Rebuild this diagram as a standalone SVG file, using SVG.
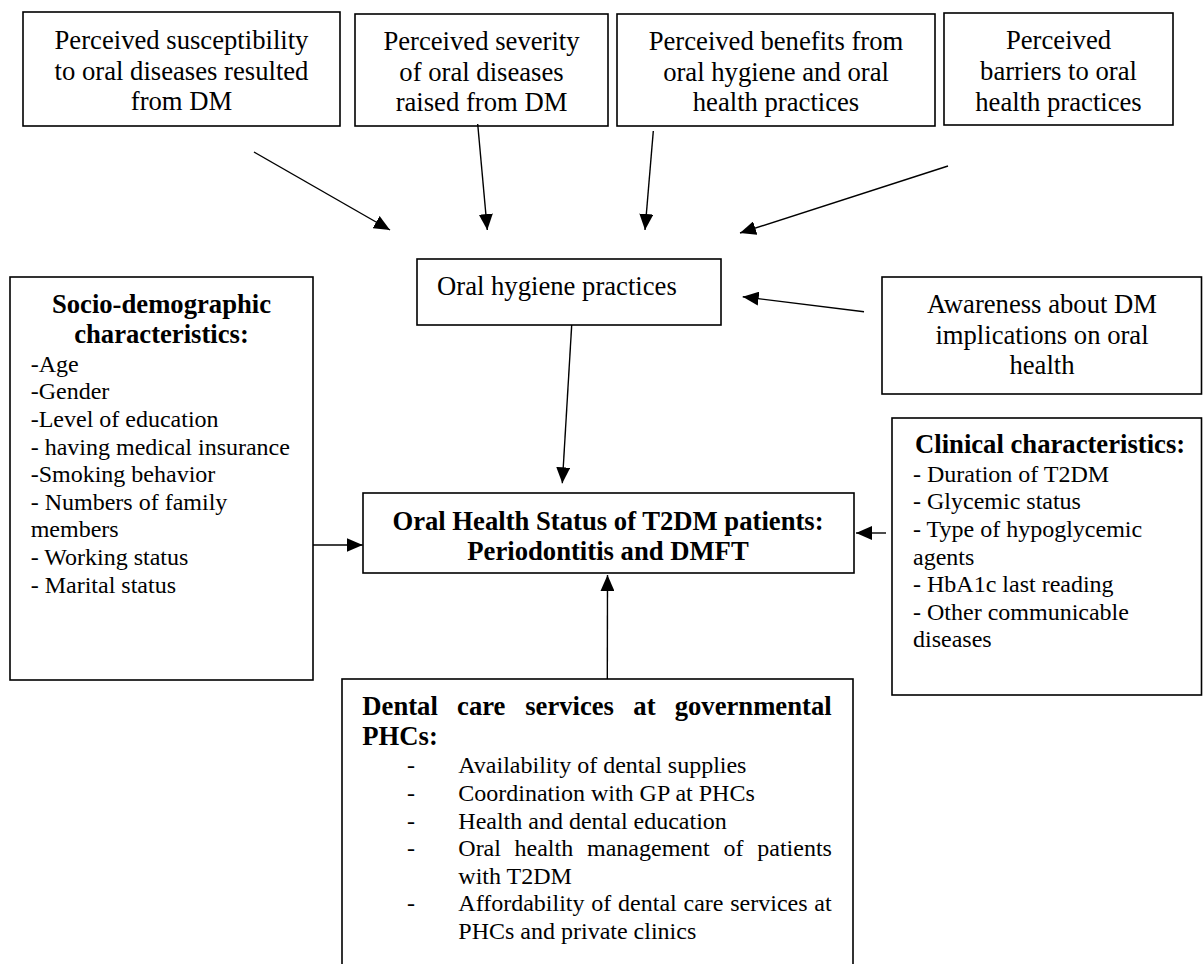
<svg xmlns="http://www.w3.org/2000/svg" width="1203" height="964" viewBox="0 0 1203 964">
<style>
  .box { fill: #ffffff; stroke: #000000; stroke-width: 1.6; }
  .t { font-family: "Liberation Serif", "Times New Roman", serif; font-size: 26.67px; fill: #000000; }
  .s { font-family: "Liberation Serif", "Times New Roman", serif; font-size: 24px; fill: #000000; }
  .b { font-weight: bold; }
  .c { text-anchor: middle; }
  .conn { fill: none; stroke: #000000; stroke-width: 1.4; marker-end: url(#arrow); }
</style>
<defs>
  <marker id="arrow" markerUnits="userSpaceOnUse" markerWidth="16" markerHeight="14" refX="16" refY="7" orient="auto">
    <path d="M0,0 L16,7 L0,14 z" fill="#000000"/>
  </marker>
</defs>
<rect width="1203" height="964" fill="#ffffff"/>

<g id="susceptibility">
  <rect class="box" x="23" y="12" width="317" height="114"/>
  <text class="t c" x="181.5" y="49">Perceived susceptibility</text>
  <text class="t c" x="181.5" y="79.7">to oral diseases resulted</text>
  <text class="t c" x="181.5" y="110.4">from DM</text>
</g>

<g id="severity">
  <rect class="box" x="355" y="14" width="253" height="112"/>
  <text class="t c" x="481.5" y="50">Perceived severity</text>
  <text class="t c" x="481.5" y="80.7">of oral diseases</text>
  <text class="t c" x="481.5" y="111.4">raised from DM</text>
</g>

<g id="benefits">
  <rect class="box" x="617" y="14" width="318" height="112"/>
  <text class="t c" x="776" y="50">Perceived benefits from</text>
  <text class="t c" x="776" y="80.7">oral hygiene and oral</text>
  <text class="t c" x="776" y="111.4">health practices</text>
</g>

<g id="barriers">
  <rect class="box" x="944" y="13" width="229" height="112"/>
  <text class="t c" x="1058.5" y="49.3">Perceived</text>
  <text class="t c" x="1058.5" y="80">barriers to oral</text>
  <text class="t c" x="1058.5" y="110.7">health practices</text>
</g>

<g id="oral-hygiene">
  <rect class="box" x="417" y="259" width="304" height="66"/>
  <text class="t" x="437" y="295">Oral hygiene practices</text>
</g>

<g id="awareness">
  <rect class="box" x="882" y="277" width="319.5" height="117"/>
  <text class="t c" x="1042" y="313">Awareness about DM</text>
  <text class="t c" x="1042" y="343.7">implications on oral</text>
  <text class="t c" x="1042" y="374.4">health</text>
</g>

<g id="socio-demographic">
  <rect class="box" x="10" y="277" width="303" height="403"/>
  <text class="t b c" x="161.5" y="313.3">Socio-demographic</text>
  <text class="t b c" x="161.5" y="343.3">characteristics:</text>
  <text class="s" x="30.7" y="371.7">-Age</text>
  <text class="s" x="30.7" y="399.3">-Gender</text>
  <text class="s" x="30.7" y="426.9">-Level of education</text>
  <text class="s" x="30.7" y="454.5">- having medical insurance</text>
  <text class="s" x="30.7" y="482.1">-Smoking behavior</text>
  <text class="s" x="30.7" y="509.7">- Numbers of family</text>
  <text class="s" x="30.7" y="537.3">members</text>
  <text class="s" x="30.7" y="564.9">- Working status</text>
  <text class="s" x="30.7" y="592.5">- Marital status</text>
</g>

<g id="oral-health-status">
  <rect class="box" x="363" y="493" width="491" height="80"/>
  <text class="t b c" x="608" y="530">Oral Health Status of T2DM patients:</text>
  <text class="t b c" x="608" y="560">Periodontitis and DMFT</text>
</g>

<g id="clinical">
  <rect class="box" x="892" y="418" width="309.5" height="277"/>
  <text class="t b" x="915" y="453">Clinical characteristics:</text>
  <text class="s" x="913" y="481.7">- Duration of T2DM</text>
  <text class="s" x="913" y="509.3">- Glycemic status</text>
  <text class="s" x="913" y="536.9">- Type of hypoglycemic</text>
  <text class="s" x="913" y="564.5">agents</text>
  <text class="s" x="913" y="592.1">- HbA1c last reading</text>
  <text class="s" x="913" y="619.7">- Other communicable</text>
  <text class="s" x="913" y="647.3">diseases</text>
</g>

<g id="dental-care">
  <rect class="box" x="342" y="679" width="511" height="300"/>
  <text class="t b" y="715"><tspan x="362.3">Dental</tspan><tspan x="457.1">care</tspan><tspan x="525.2">services</tspan><tspan x="633.3">at</tspan><tspan x="674.7">governmental</tspan></text>
  <text class="t b" x="362.3" y="745">PHCs:</text>
  <text class="s" x="407" y="773.3">-</text>
  <text class="s" x="458.3" y="773.3">Availability of dental supplies</text>
  <text class="s" x="407" y="800.9">-</text>
  <text class="s" x="458.3" y="800.9">Coordination with GP at PHCs</text>
  <text class="s" x="407" y="828.5">-</text>
  <text class="s" x="458.3" y="828.5">Health and dental education</text>
  <text class="s" x="407" y="856.1">-</text>
  <text class="s" y="856.1"><tspan x="458.3">Oral</tspan><tspan x="514.5">health</tspan><tspan x="587">management</tspan><tspan x="723.5">of</tspan><tspan x="757.3">patients</tspan></text>
  <text class="s" x="458.3" y="883.7">with T2DM</text>
  <text class="s" x="407" y="911.3">-</text>
  <text class="s" x="458.3" y="911.3" word-spacing="0.8">Affordability of dental care services at</text>
  <text class="s" x="458.3" y="938.9">PHCs and private clinics</text>
</g>

<g id="connectors">
  <line class="conn" x1="254" y1="152" x2="390" y2="230"/>
  <line class="conn" x1="477.7" y1="124" x2="487.3" y2="230"/>
  <line class="conn" x1="653.3" y1="131" x2="645" y2="230"/>
  <line class="conn" x1="948" y1="166" x2="740" y2="233"/>
  <line class="conn" x1="864" y1="311.7" x2="742.7" y2="296.7"/>
  <line class="conn" x1="571.7" y1="325" x2="562.3" y2="483.3"/>
  <line class="conn" x1="313" y1="545" x2="362.7" y2="545"/>
  <line class="conn" x1="886" y1="533" x2="856" y2="533"/>
  <line class="conn" x1="607.3" y1="679" x2="607.5" y2="575"/>
</g>
</svg>
